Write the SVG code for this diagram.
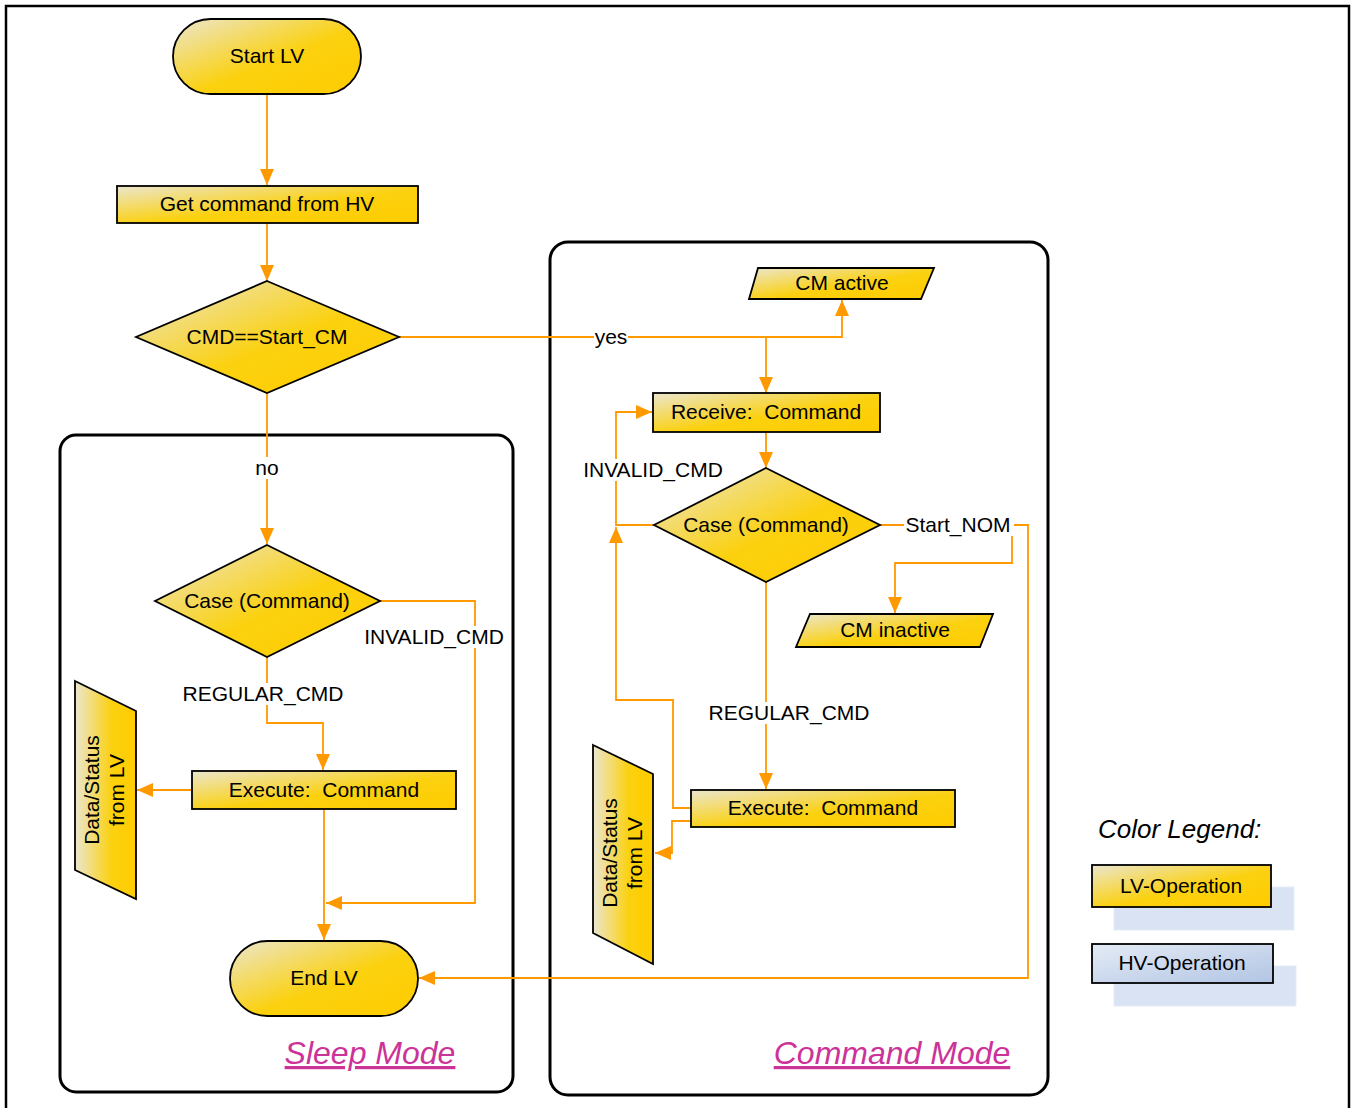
<svg xmlns="http://www.w3.org/2000/svg" width="1351" height="1108" viewBox="0 0 1351 1108">
<defs>
<linearGradient id="gy" x1="0" y1="0" x2="1" y2="1">
<stop offset="0" stop-color="#ebe6cf"/>
<stop offset="0.55" stop-color="#fbd10f"/>
<stop offset="1" stop-color="#ffcc00"/>
</linearGradient>
<linearGradient id="gyh" x1="0" y1="0" x2="1" y2="0">
<stop offset="0" stop-color="#ebe6cf"/>
<stop offset="0.6" stop-color="#fbd10f"/>
<stop offset="1" stop-color="#ffcc00"/>
</linearGradient>
<linearGradient id="gb" x1="0" y1="0" x2="1" y2="1">
<stop offset="0" stop-color="#e4ebf5"/>
<stop offset="1" stop-color="#b2c5e4"/>
</linearGradient>
<marker id="arr" viewBox="0 0 16 14" refX="16" refY="7" markerWidth="16" markerHeight="14" orient="auto" markerUnits="userSpaceOnUse">
<path d="M0,0 L16,7 L0,14 z" fill="#ff9900"/>
</marker>
</defs>
<style>
.sh{fill:url(#gy);stroke:#000;stroke-width:1.8}
.shh{fill:url(#gyh);stroke:#000;stroke-width:1.8}
.t{font-family:"Liberation Sans",Arial,sans-serif;font-size:21px;fill:#000;text-anchor:middle}
.c{fill:none;stroke:#ff9900;stroke-width:2}
.ca{fill:none;stroke:#ff9900;stroke-width:1.8;marker-end:url(#arr)}
.box{fill:none;stroke:#000;stroke-width:3}
.mode{font-family:"Liberation Sans",Arial,sans-serif;font-size:32px;font-style:italic;fill:#cc3399;text-decoration:underline;text-anchor:middle}
.bg{fill:#fff}
</style>
<rect x="0" y="0" width="1351" height="1108" fill="#fff"/>
<rect x="6" y="6" width="1343" height="1112" fill="none" stroke="#000" stroke-width="2.5"/>

<g id="sleep-mode-box">
<rect class="box" x="60" y="435" width="453" height="657" rx="16"/>
<text class="mode" x="370" y="1064">Sleep Mode</text>
</g>
<g id="command-mode-box">
<rect class="box" x="550" y="242" width="498" height="853" rx="18"/>
<text class="mode" x="892" y="1064">Command Mode</text>
</g>

<g id="connectors">
<path class="ca" d="M267,94 V185"/>
<path class="ca" d="M267,223 V281"/>
<path class="ca" d="M399,337 H842 V300"/>
<path class="ca" d="M766,337 V393"/>
<path class="ca" d="M766,432 V468"/>
<path class="ca" d="M654,525 H616 V412 H652"/>
<path class="ca" d="M690,808 H673 V700 H616 V527"/>
<path class="ca" d="M880,525 H1028 V978 H419"/>
<path class="ca" d="M1012,525 V563 H895 V613"/>
<path class="ca" d="M766,582 V789"/>
<path class="ca" d="M690,821 H672 V853 H655"/>
<path class="ca" d="M267,393 V544"/>
<path class="ca" d="M380,601 H475 V903 H326"/>
<path class="ca" d="M267,657 V723 H323 V770"/>
<path class="ca" d="M192,790 H137"/>
<path class="ca" d="M324,809 V940"/>
</g>

<g id="connector-labels">
<rect class="bg" x="594" y="326" width="34" height="22"/>
<text class="t" x="611" y="343.5">yes</text>
<rect class="bg" x="254" y="457" width="26" height="22"/>
<text class="t" x="267" y="474.5">no</text>
<rect class="bg" x="580" y="459" width="146" height="22"/>
<text class="t" x="653" y="476.5">INVALID_CMD</text>
<rect class="bg" x="904" y="514" width="110" height="22"/>
<text class="t" x="958" y="531.5">Start_NOM</text>
<rect class="bg" x="706" y="702" width="166" height="22"/>
<text class="t" x="789" y="719.5">REGULAR_CMD</text>
<rect class="bg" x="362" y="626" width="146" height="22"/>
<text class="t" x="434" y="643.5">INVALID_CMD</text>
<rect class="bg" x="180" y="683" width="166" height="22"/>
<text class="t" x="263" y="700.5">REGULAR_CMD</text>
</g>

<g id="start-lv">
<rect class="sh" x="173" y="19" width="188" height="75" rx="37.5"/>
<text class="t" x="267" y="62.5">Start LV</text>
</g>
<g id="get-command">
<rect class="sh" x="117" y="186" width="301" height="37"/>
<text class="t" x="267" y="210.5">Get command from HV</text>
</g>
<g id="cmd-start-cm">
<polygon class="sh" points="267,281 399,337 267,393 136,337"/>
<text class="t" x="267" y="343.5">CMD==Start_CM</text>
</g>
<g id="cm-active">
<polygon class="sh" points="758,268 934,268 921,299 749,299"/>
<text class="t" x="842" y="289.5">CM active</text>
</g>
<g id="receive-command">
<rect class="sh" x="653" y="393" width="227" height="39"/>
<text class="t" x="766" y="418.5" xml:space="preserve">Receive:  Command</text>
</g>
<g id="case-command-cm">
<polygon class="sh" points="766,468 880,525 766,582 654,525"/>
<text class="t" x="766" y="531.5">Case (Command)</text>
</g>
<g id="cm-inactive">
<polygon class="sh" points="810,614 993,614 980,647 796,647"/>
<text class="t" x="895" y="636.5">CM inactive</text>
</g>
<g id="execute-command-cm">
<rect class="sh" x="691" y="790" width="264" height="37"/>
<text class="t" x="823" y="814.5" xml:space="preserve">Execute:  Command</text>
</g>
<g id="data-status-cm">
<polygon class="shh" points="593,745 653,774 653,964 593,933"/>
<text class="t" transform="translate(622,853) rotate(-90)"><tspan x="0" y="-5">Data/Status</tspan><tspan x="0" y="20">from LV</tspan></text>
</g>
<g id="case-command-sleep">
<polygon class="sh" points="267,545 380,601 267,657 155,601"/>
<text class="t" x="267" y="607.5">Case (Command)</text>
</g>
<g id="execute-command-sleep">
<rect class="sh" x="192" y="771" width="264" height="38"/>
<text class="t" x="324" y="796.5" xml:space="preserve">Execute:  Command</text>
</g>
<g id="data-status-sleep">
<polygon class="shh" points="75,681 136,711 136,899 75,870"/>
<text class="t" transform="translate(105,790) rotate(-90)"><tspan x="0" y="-6">Data/Status</tspan><tspan x="0" y="19">from LV</tspan></text>
</g>
<g id="end-lv">
<rect class="sh" x="230" y="941" width="188" height="75" rx="37.5"/>
<text class="t" x="324" y="984.5">End LV</text>
</g>

<g id="legend">
<text x="1098" y="838" style="font-family:'Liberation Sans',Arial,sans-serif;font-size:26px;font-style:italic;fill:#000">Color Legend:</text>
<rect x="1114" y="887" width="180" height="43" fill="#dae3f3" stroke="#e6ecf6" stroke-width="1"/>
<rect class="sh" x="1092" y="865" width="179" height="42"/>
<text class="t" x="1181" y="892.5">LV-Operation</text>
<rect x="1114" y="966" width="182" height="40" fill="#dae3f3" stroke="#e6ecf6" stroke-width="1"/>
<rect x="1092" y="944" width="181" height="39" fill="url(#gb)" stroke="#000" stroke-width="1.8"/>
<text class="t" x="1182" y="969.5">HV-Operation</text>
</g>
</svg>
